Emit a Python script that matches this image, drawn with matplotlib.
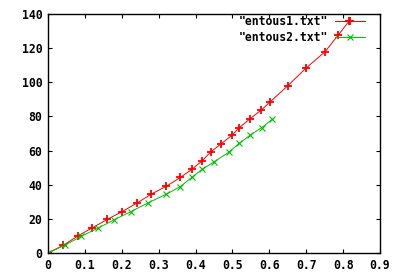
import numpy as np
import matplotlib
matplotlib.use("Agg")
import matplotlib.pyplot as plt

# data
x1 = [0, 0.041, 0.081, 0.12, 0.161, 0.201, 0.24, 0.28, 0.32, 0.359, 0.39, 0.418,
      0.441, 0.469, 0.499, 0.519, 0.547, 0.578, 0.601, 0.65, 0.699, 0.751, 0.787, 0.817]
y1 = [0, 4.5, 10, 14.7, 19.7, 24.3, 29.1, 34.5, 39, 44.3, 49, 54,
      59.2, 63.9, 69, 73.5, 78.5, 83.7, 88.3, 98, 108.2, 117.9, 127.7, 136.1]
x2 = [0, 0.045, 0.09, 0.135, 0.18, 0.225, 0.27, 0.32, 0.358, 0.39, 0.418,
      0.451, 0.49, 0.519, 0.548, 0.579, 0.608]
y2 = [0, 4.5, 9.8, 14.5, 19.5, 24.3, 29.2, 34.4, 38.8, 44.3, 49,
      53.5, 59, 64.3, 69, 73.4, 78.3]
labels = ['"entous1.txt"', '"entous2.txt"']

xticks = np.arange(0, 0.91, 0.1)
yticks = np.arange(0, 141, 20)

plt.rcParams['font.family'] = 'DejaVu Sans Mono'
plt.rcParams['font.weight'] = 'bold'

fig = plt.figure(figsize=(4, 2.8), dpi=100)
ax = fig.add_axes([48 / 400, 27 / 280, 332 / 400, 239 / 280])

ax.plot(x1, y1, color='#ff0000', lw=0.7, marker='+', ms=6, mew=1.3, label=labels[0])
ax.plot(x2, y2, color='#00c000', lw=0.7, marker='x', ms=5, mew=0.8, label=labels[1])

ax.set_xlim(0, 0.9)
ax.set_ylim(0, 140)
ax.set_xticks(xticks)
ax.set_xticklabels(['0'] + ['%.1f' % t for t in xticks[1:]])
ax.set_yticks(yticks)
ax.tick_params(direction='in', top=True, right=True, length=3, width=0.8,
               labelsize=8.3, pad=4)
for s in ax.spines.values():
    s.set_linewidth(1.0)

ax.legend(loc='upper right', bbox_to_anchor=(0.958, 1.0), frameon=False,
          markerfirst=False, numpoints=1, fontsize=8.3, borderaxespad=0,
          borderpad=0.1, handlelength=2.6, handletextpad=0.6, labelspacing=0.25)

fig.savefig('out.png', dpi=100)
